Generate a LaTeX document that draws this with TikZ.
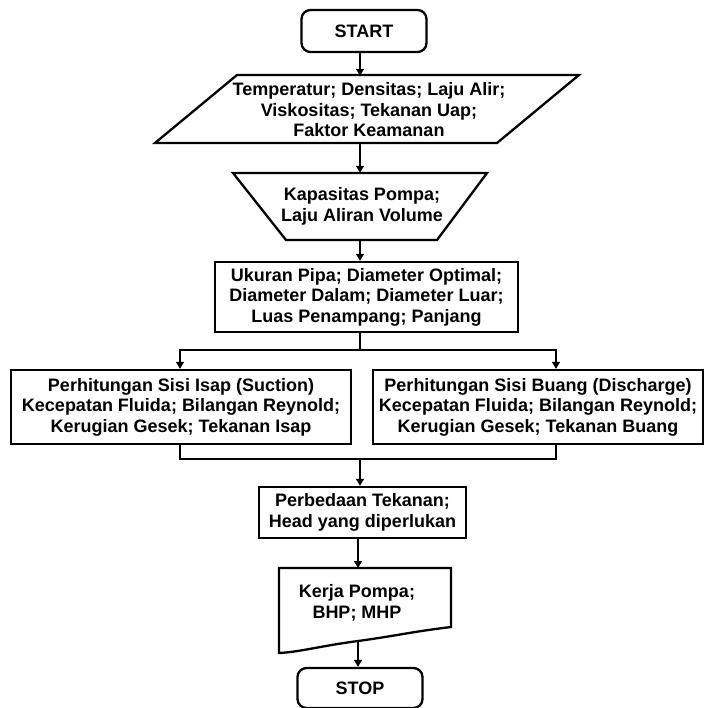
\documentclass[tikz,border=0pt]{standalone}
\usepackage{fontspec}
\setmainfont{Liberation Sans}
\usetikzlibrary{arrows.meta,calc}
\begin{document}
\begin{tikzpicture}[x=1pt,y=-1pt,
  shapeline/.style={line width=2.3pt, line join=miter},
  txt/.style={font=\fontsize{18}{20.5}\selectfont\bfseries, align=center, inner sep=0pt},
  box/.style={shapeline, draw, rectangle, txt},
  term/.style={box, rounded corners=9pt, minimum width=125pt, minimum height=42pt},
  conn/.style={line width=1.3pt},
  arr/.style={conn, -{Triangle[length=7pt,width=8pt]}}]
\fill[white] (0,0) rectangle (704,708);
\useasboundingbox (0,0) rectangle (704,708);
% axes for the connectors
\coordinate (axis) at (360,0);
\coordinate (axisb) at (358,0);
\coordinate (rx) at (556,0);
\coordinate (lx) at (180,0);
% nodes
\node[term] (start) at (364,31) {START};
\node[txt, minimum width=424pt, minimum height=68pt] (par) at (369,110)
  {Temperatur; Densitas; Laju Alir;\\Viskositas; Tekanan Uap;\\Faktor Keamanan};
\draw[shapeline] (237,75) -- (579,75) -- (497,143) -- (155,143) -- cycle;
\node[txt, minimum width=254pt, minimum height=67pt] (trap) at (362,206.5)
  {Kapasitas Pompa;\\Laju Aliran Volume};
\draw[shapeline] (233,173) -- (487,173) -- (437,240) -- (286,240) -- cycle;
\node[box, minimum width=303pt, minimum height=70pt] (ukur) at (366.5,297)
  {Ukuran Pipa; Diameter Optimal;\\Diameter Dalam; Diameter Luar;\\Luas Penampang; Panjang};
\node[box, minimum width=340pt, minimum height=74pt] (left) at (181,407)
  {Perhitungan Sisi Isap (Suction)\\Kecepatan Fluida; Bilangan Reynold;\\Kerugian Gesek; Tekanan Isap};
\node[box, minimum width=330pt, minimum height=74pt] (right) at (538,407)
  {Perhitungan Sisi Buang (Discharge)\\Kecepatan Fluida; Bilangan Reynold;\\Kerugian Gesek; Tekanan Buang};
\node[box, minimum width=207pt, minimum height=51pt] (perb) at (362.5,512.5)
  {Perbedaan Tekanan;\\Head yang diperlukan};
\node[txt] (doc) at (357,603) {Kerja Pompa;\\BHP; MHP};
\draw[shapeline] (279,568) -- (451,568) -- (451,627)
  .. controls (410,632) and (395,636) .. (358,641)
  .. controls (320,646) and (300,652) .. (279,653) -- cycle;
\coordinate (doctop) at (358,568);
\coordinate (docbot) at (358,641);
\node[term, minimum height=40pt] (stop) at (360,688) {STOP};
% connectors
\coordinate (split) at (360,350);
\coordinate (merge) at (360,459);
\draw[arr] (start.south -| axis) -- (par.north -| axis |- 0,75);
\draw[arr] (axis |- 0,143) -- (trap.north -| axis);
\draw[arr] (trap.south -| axis) -- (ukur.north -| axis);
\draw[conn] (ukur.south -| axis) -- (split);
\draw[arr] (split) -| (left.north -| lx);
\draw[arr] (split) -| (right.north -| rx);
\draw[conn] (left.south -| lx) |- (merge) -| (right.south -| rx);
\draw[arr] (merge) -- (perb.north -| axis);
\draw[arr] (perb.south -| axisb) -- (doctop);
\draw[arr] (docbot) -- (stop.north -| axisb);
\end{tikzpicture}
\end{document}
